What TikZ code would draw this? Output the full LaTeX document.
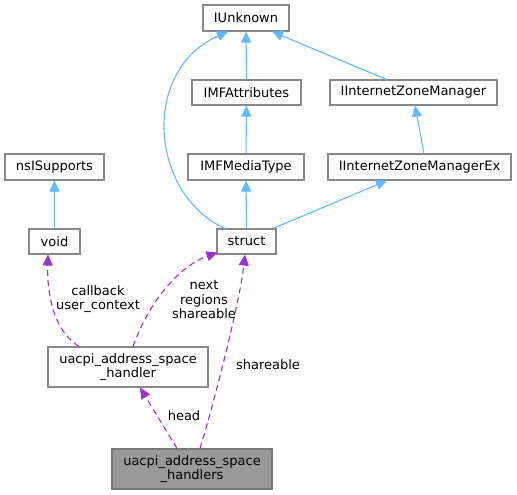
\documentclass[tikz,border=0pt]{standalone}
\usepackage{fontspec}
\setmainfont{DejaVu Sans}
\usepackage{tikz}
\usetikzlibrary{arrows.meta,positioning,calc}
\definecolor{boxborder}{RGB}{136,136,136}
\definecolor{focusfill}{RGB}{153,153,153}
\definecolor{focusborder}{RGB}{120,120,120}
\definecolor{inheritblue}{RGB}{99,184,255}
\definecolor{usagepurple}{RGB}{154,50,205}

\begin{document}
\begin{tikzpicture}[x=1pt, y=-1pt,
  classbox/.style={draw=boxborder, fill=white, line width=1.1pt, inner sep=0pt, align=center, font=\fontsize{13}{14.5}\selectfont},
  focusbox/.style={classbox, draw=focusborder, fill=focusfill},
  inherit/.style={draw=inheritblue, line width=1.1pt, -{Triangle[length=11pt,width=10pt]}},
  usage/.style={draw=usagepurple, line width=1.1pt, dashed, dash pattern=on 6pt off 4pt, -{Triangle[length=11pt,width=10pt]}},
  edgelabel/.style={align=center, inner sep=0pt, font=\fontsize{13}{14.5}\selectfont}
]
\useasboundingbox (0,0) rectangle (517,495);

% class boxes
\node[classbox, minimum width=86pt, minimum height=26pt] (iunknown) at (246,18) {IUnknown};
\node[classbox, minimum width=109pt, minimum height=25pt] (imfattr) at (246.5,92.5) {IMFAttributes};
\node[classbox, minimum width=167pt, minimum height=25pt] (izonemgr) at (413.5,92.5) {IInternetZoneManager};
\node[classbox, minimum width=99pt, minimum height=26pt] (nssupports) at (54.5,167) {nsISupports};
\node[classbox, minimum width=116pt, minimum height=26pt] (imfmedia) at (246,167) {IMFMediaType};
\node[classbox, minimum width=183pt, minimum height=26pt] (izonemgrex) at (419.5,167) {IInternetZoneManagerEx};
\node[classbox, minimum width=51pt, minimum height=25pt] (voidnode) at (54.5,241.5) {void};
\node[classbox, minimum width=59pt, minimum height=25pt] (structnode) at (246.5,241.5) {struct};
\node[classbox, minimum width=160pt, minimum height=40pt] (handler) at (128,367) {uacpi\_address\_space\\\_handler};
\node[focusbox, minimum width=160pt, minimum height=40pt] (handlers) at (192,469) {uacpi\_address\_space\\\_handlers};

% inheritance
\draw[inherit] (imfattr) -- (iunknown);
\draw[inherit] ([xshift=-27pt]izonemgr.north) -- ([xshift=26pt]iunknown.south);
\draw[inherit] (imfmedia) -- (imfattr);
\draw[inherit] ([xshift=4.5pt]izonemgrex.north) -- ([xshift=1.5pt]izonemgr.south);
\draw[inherit] (structnode) -- (imfmedia);
\draw[inherit] ([xshift=26.5pt]structnode.north) -- ([xshift=-32.5pt]izonemgrex.south);
\draw[inherit] ([xshift=-21.5pt]structnode.north) .. controls +(-75,-34) and +(-88,39) .. ([xshift=-18pt]iunknown.south);
\draw[inherit] (voidnode) -- (nssupports);

% usage
\draw[usage] ([xshift=-49pt]handler.north) .. controls +(-27,-17) and +(-1,36) .. ([xshift=-6.5pt]voidnode.south);
\draw[usage] ([xshift=5pt]handler.north) .. controls +(17,-47) and +(-37,13) .. ([xshift=-29pt,yshift=2pt]structnode.south);
\draw[usage] ([xshift=8pt]handlers.north) .. controls +(15,-49) and +(-5,46) .. ([xshift=-1.5pt]structnode.south);
\draw[usage] ([xshift=-15pt]handlers.north) -- ([xshift=12pt]handler.south);

% edge labels
\node[edgelabel] (lblcallback) at (98,299) {callback\\user\_context};
\node[edgelabel] (lblnext) at (204,300) {next\\regions\\shareable};
\node[edgelabel] (lblshare) at (268,365) {shareable};
\node[edgelabel] (lblhead) at (184,416) {head};
\end{tikzpicture}
\end{document}
